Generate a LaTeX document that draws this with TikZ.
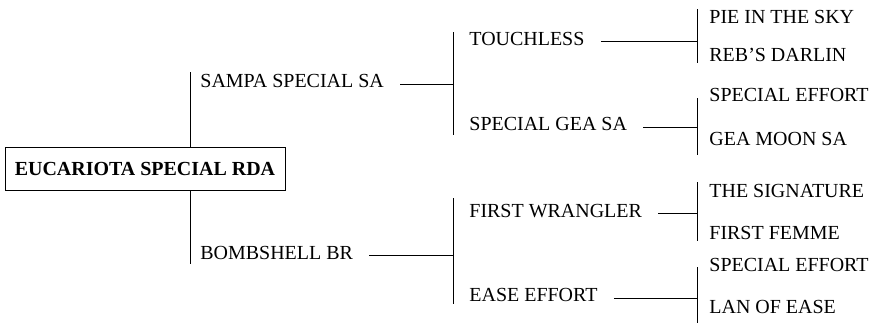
\documentclass[tikz,border=0pt]{standalone}
\usepackage{fontspec}
\setmainfont{Liberation Serif}
\usepackage{tikz}
\usetikzlibrary{calc}

\begin{document}
\begin{tikzpicture}[line width=0.6pt,
  every node/.style={font=\fontsize{14.2}{17}\selectfont},
  branch/.style={anchor=west, inner xsep=0.4cm, inner ysep=0pt, text height=0.35cm, text depth=0.175cm},
  leaf/.style={anchor=west, inner sep=0pt, text height=0.35cm, text depth=0.175cm}]
\useasboundingbox (0,0) rectangle (21.8,8.1);

% root box
\node[rectangle,draw,minimum width=7cm, minimum height=1.075cm, inner sep=0pt, font=\fontsize{14.2}{17}\selectfont\bfseries, name=eucariota] at (3.625,3.8875) {EUCARIOTA SPECIAL RDA};

% first level
\node[branch, name=sampa] at (4.6,6.0) {SAMPA SPECIAL SA};
\node[branch, name=bombshell] at (4.6,1.71) {BOMBSHELL BR};
\coordinate (root_top) at (4.75,6.3);
\coordinate (root_bot) at (4.75,1.5);
\draw (eucariota.north -| root_top) -- (root_top);
\draw (eucariota.south -| root_bot) -- (root_bot);

% second level
\node[branch, name=touchless] at (11.325,7.06) {TOUCHLESS};
\node[branch, name=gea] at (11.325,4.92) {SPECIAL GEA SA};
\node[branch, name=wrangler] at (11.325,2.76) {FIRST WRANGLER};
\node[branch, name=ease] at (11.325,0.64) {EASE EFFORT};
\coordinate (sampa_top) at (11.325,7.3);
\coordinate (sampa_bot) at (11.325,4.725);
\coordinate (bombshell_top) at (11.325,3.15);
\coordinate (bombshell_bot) at (11.325,0.5);
\draw (sampa_top) -- (sampa_bot);
\draw (bombshell_top) -- (bombshell_bot);
\draw (sampa.east) -- (sampa.east -| sampa_top);
\draw (bombshell.east) -- (bombshell.east -| bombshell_top);

% leaves
\node[leaf, name=pie] at (17.725,7.59) {PIE IN THE SKY};
\node[leaf, name=reb] at (17.725,6.64) {REB'S DARLIN};
\node[leaf, name=effort] at (17.725,5.64) {SPECIAL EFFORT};
\node[leaf, name=moon] at (17.725,4.54) {GEA MOON SA};
\node[leaf, name=signature] at (17.725,3.26) {THE SIGNATURE};
\node[leaf, name=femme] at (17.725,2.21) {FIRST FEMME};
\node[leaf, name=effort2] at (17.725,1.39) {SPECIAL EFFORT};
\node[leaf, name=lan] at (17.725,0.34) {LAN OF EASE};
\coordinate (touchless_top) at (17.425,7.875);
\coordinate (touchless_bot) at (17.425,6.525);
\coordinate (gea_top) at (17.425,5.65);
\coordinate (gea_bot) at (17.425,4.225);
\coordinate (wrangler_top) at (17.425,3.55);
\coordinate (wrangler_bot) at (17.425,2.075);
\coordinate (ease_top) at (17.425,1.425);
\coordinate (ease_bot) at (17.425,0.025);
\draw (touchless_top) -- (touchless_bot);
\draw (gea_top) -- (gea_bot);
\draw (wrangler_top) -- (wrangler_bot);
\draw (ease_top) -- (ease_bot);
\draw (touchless.east) -- (touchless.east -| touchless_top);
\draw (gea.east) -- (gea.east -| gea_top);
\draw (wrangler.east) -- (wrangler.east -| wrangler_top);
\draw (ease.east) -- (ease.east -| ease_top);
\end{tikzpicture}
\end{document}
